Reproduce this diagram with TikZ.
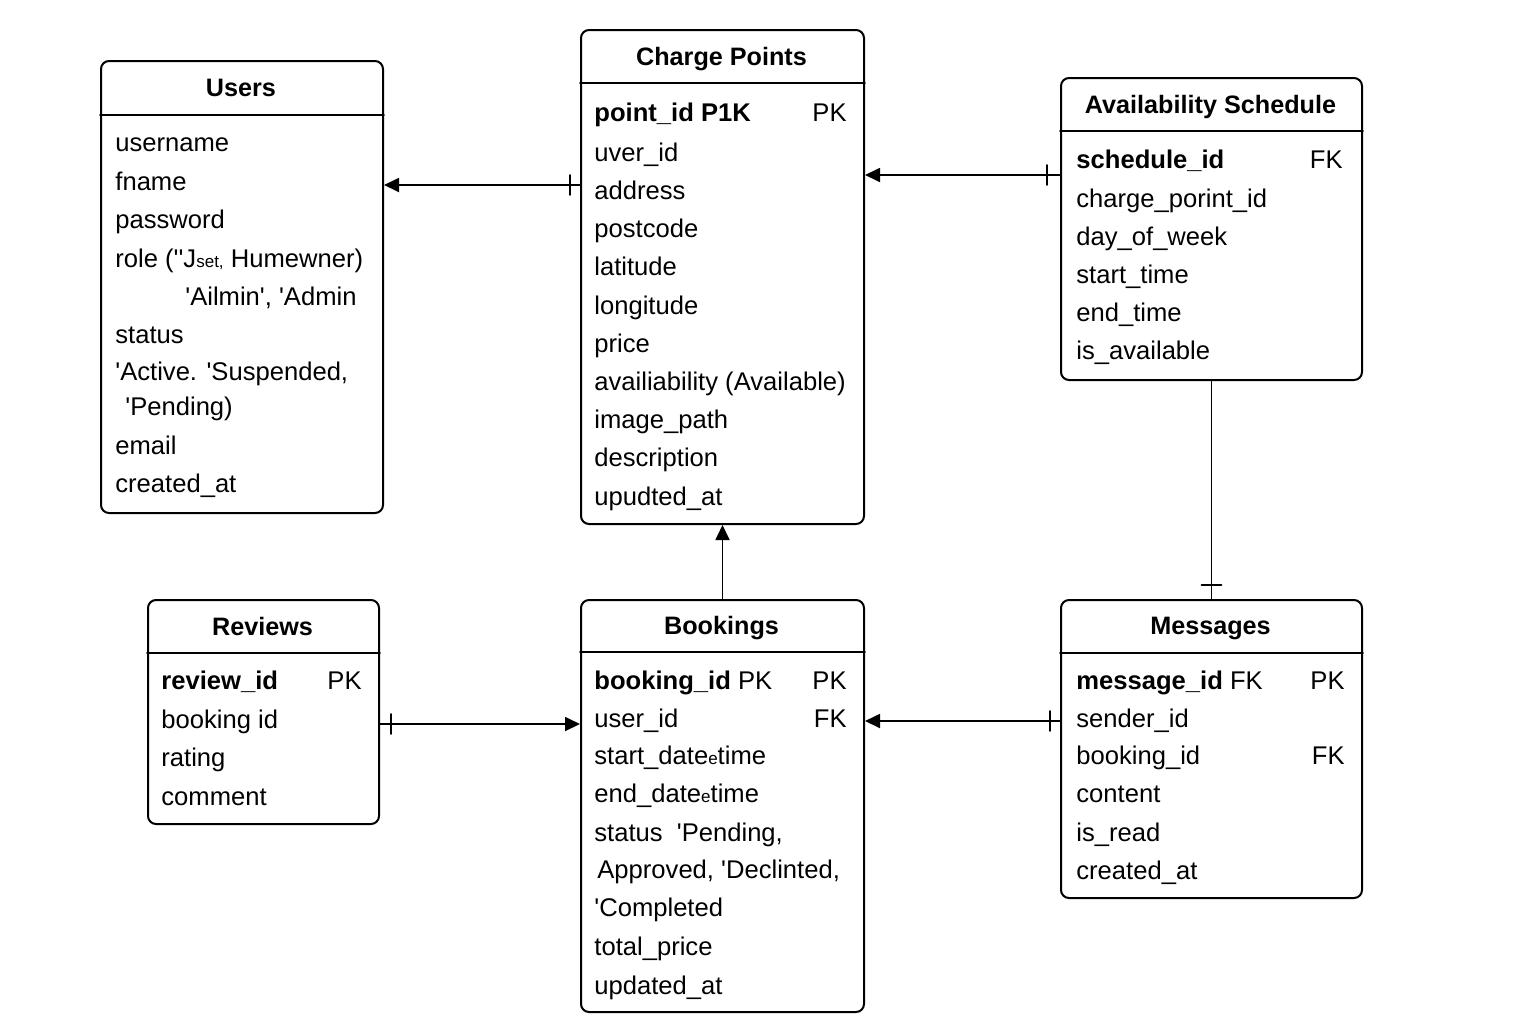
\documentclass[tikz,border=0pt]{standalone}
\usepackage{fontspec}
\setmainfont{Liberation Sans}[Ligatures=TeXOff]
\usetikzlibrary{arrows.meta,decorations.markings}
\newcommand\smallbit[1]{{\fontsize{8.5pt}{10pt}\selectfont #1}}
\tikzset{
  tbl/.style={draw,line width=1pt,rounded corners=4pt,inner sep=0pt,anchor=north west},
  hdr/.style={line width=0.8pt},
  ttl/.style={font=\fontsize{12.6pt}{15pt}\selectfont\bfseries,inner sep=0pt,text height=9pt,text depth=2.6pt},
  row/.style={anchor=west,inner sep=0pt,text height=9pt,text depth=2.6pt},
  key/.style={row,anchor=east},
  link/.style={line width=0.9pt},
  rel/.style={link,-{Triangle[length=7.5pt,width=7pt]}},
  onebar/.style={postaction={decorate,decoration={markings,
    mark=at position #1 with {\draw[-,line width=0.9pt] (0pt,-5pt)--(0pt,5pt);}}}},
}
\begin{document}
\begin{tikzpicture}[x=0.5pt,y=-0.5pt,font=\fontsize{12.8pt}{15pt}\selectfont,line join=round,line cap=round]
\useasboundingbox (0,0) rectangle (1536,1024);
% tables
\node[tbl,minimum width=141pt,minimum height=226pt] (users) at (100,60) {};
\node[tbl,minimum width=141.5pt,minimum height=247pt] (cp) at (580,29) {};
\node[tbl,minimum width=150.5pt,minimum height=151pt] (avail) at (1060,77) {};
\node[tbl,minimum width=115.5pt,minimum height=112pt] (reviews) at (147,599) {};
\node[tbl,minimum width=141.5pt,minimum height=206pt] (bookings) at (580,599) {};
\node[tbl,minimum width=150.5pt,minimum height=149pt] (messages) at (1060,599) {};
\foreach \n/\y in {users/115, cp/83, avail/131, reviews/653, bookings/652, messages/653}
  \draw[hdr] (\n.west |- 0,\y) -- (\n.east |- 0,\y);
% titles
\node[ttl] (users-t) at (241,90.5) {Users};
\node[ttl] (cp-t) at (721.5,59.5) {Charge Points};
\node[ttl] (avail-t) at (1210.5,107.5) {Availability Schedule};
\node[ttl] (reviews-t) at (262.5,629.5) {Reviews};
\node[ttl] (bookings-t) at (721.5,628.5) {Bookings};
\node[ttl] (messages-t) at (1210.5,628.5) {Messages};
% Users
\foreach \x/\y/\t [count=\i] in {115/145.5/username, 115/184.5/fname, 115/222.5/password,
  115/261.5/{role (''J\smallbit{set,} Humewner)}, 185/299.5/{'Ailmin', 'Admin},
  115/337.5/status, 115/374.5/{'Active. 'Suspended,}, 125/409.5/{'Pending)},
  115/448.5/email, 115/486.5/created\_at}
  \node[row] (users-\i) at (\x,\y) {\t};
% Charge Points
\foreach \y/\t [count=\i] in {115.5/\textbf{point\_id P1K}, 155.5/uver\_id, 193.5/address,
  231.5/postcode, 269.5/latitude, 308.5/longitude, 346.5/price,
  384.5/availiability (Available), 422.5/image\_path, 460.5/description, 499.5/upudted\_at}
  \node[row] (cp-\i) at (594,\y) {\t};
\node[key] (cp-pk) at (847,115.5) {PK};
% Availability Schedule
\foreach \y/\t [count=\i] in {162.5/\textbf{schedule\_id}, 201.5/charge\_porint\_id,
  239.5/day\_of\_week, 277.5/start\_time, 315.5/end\_time, 353.5/is\_available}
  \node[row] (avail-\i) at (1076,\y) {\t};
\node[key] (avail-fk) at (1343,162.5) {FK};
% Reviews
\foreach \y/\t [count=\i] in {683.5/\textbf{review\_id}, 722.5/booking id, 760.5/rating, 799.5/comment}
  \node[row] (reviews-\i) at (161,\y) {\t};
\node[key] (reviews-pk) at (362,683.5) {PK};
% Bookings
\foreach \x/\y/\t [count=\i] in {594/683.5/{\textbf{booking\_id} PK}, 594/721.5/user\_id,
  594/758.5/start\_date\smallbit{e}time, 594/796.5/end\_date\smallbit{e}time,
  594/835.5/{status\ \ 'Pending,}, 597/872.5/{Approved, 'Declinted,}, 594/910.5/'Completed,
  594/949.5/total\_price, 594/988.5/updated\_at}
  \node[row] (bookings-\i) at (\x,\y) {\t};
\node[key] (bookings-pk) at (847,683.5) {PK};
\node[key] (bookings-fk) at (847,721.5) {FK};
% Messages
\foreach \y/\t [count=\i] in {683.5/{\textbf{message\_id} FK}, 721.5/sender\_id, 758.5/booking\_id,
  796.5/content, 835.5/is\_read, 873.5/created\_at}
  \node[row] (messages-\i) at (1076,\y) {\t};
\node[key] (messages-pk) at (1345,683.5) {PK};
\node[key] (messages-fk) at (1345,758.5) {FK};
% relations
\draw[rel,onebar=5pt] (cp.west |- 0,185) -- (users.east |- 0,185);
\draw[rel,onebar=6.5pt] (avail.west |- 0,175) -- (cp.east |- 0,175);
\draw[rel] (bookings.north) -- (cp.south);
\draw[link,onebar=7pt] (messages.north) -- (avail.south);
\draw[rel,onebar=5.5pt] (reviews.east |- 0,724) -- (bookings.west |- 0,724);
\draw[rel,onebar=5pt] (messages.west |- 0,721) -- (bookings.east |- 0,721);
\end{tikzpicture}
\end{document}
